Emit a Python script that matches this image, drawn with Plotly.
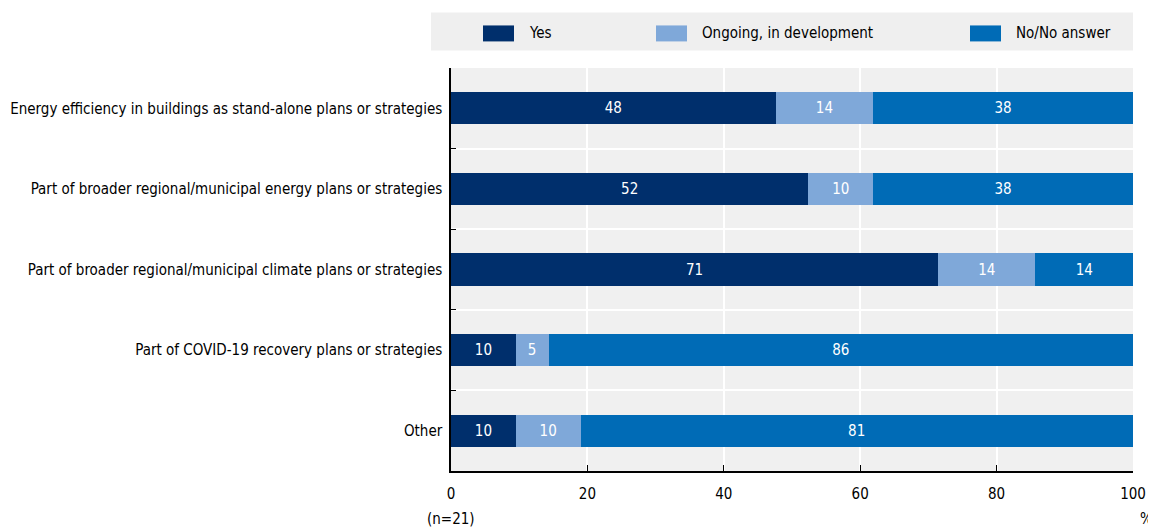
import plotly.graph_objects as go

categories = [
    "Energy efficiency in buildings as stand-alone plans or strategies",
    "Part of broader regional/municipal energy plans or strategies",
    "Part of broader regional/municipal climate plans or strategies",
    "Part of COVID-19 recovery plans or strategies",
    "Other",
]
series_names = ["Yes", "Ongoing, in development", "No/No answer"]
yes_vals = [47.6, 52.4, 71.4, 9.5, 9.5]
ongoing_vals = [14.3, 9.5, 14.3, 4.8, 9.5]
no_vals = [38.1, 38.1, 14.3, 85.7, 80.95]
colors = ["#002f6c", "#7fa8d9", "#006bb6"]
x_ticks = [0, 20, 40, 60, 80, 100]

FONT = "DejaVu Sans Condensed, Liberation Sans, Arial, sans-serif"

# page body has an 8px margin: figure drawn 8px lower/right
PX_L, PX_R, PX_T, PX_B = 451, 1133, 67.6, 471  # plot area in page pixels
PW = PX_R - PX_L
PH = PX_B - PX_T


def px(x):
    return (x - PX_L) / PW


def py(y):
    return (PX_B - y) / PH


fig = go.Figure()
for name, vals, col in zip(series_names, [yes_vals, ongoing_vals, no_vals], colors):
    fig.add_trace(go.Bar(
        y=categories, x=vals, name=name, orientation="h",
        marker=dict(color=col, line=dict(width=0)),
        text=[f"{v:.0f}" for v in vals], textposition="inside",
        insidetextanchor="middle", textangle=0,
        textfont=dict(color="white", size=15, family=FONT),
        showlegend=False, hoverinfo="x+y",
    ))

fig.update_layout(
    barmode="stack", bargap=0.6,
    width=1148, height=522,
    margin=dict(l=PX_L - 8, r=1156 - PX_R, t=PX_T - 8, b=530 - PX_B),
    paper_bgcolor="white", plot_bgcolor="#f0f0f0",
    font=dict(family=FONT, size=15, color="#000"),
)
fig.update_xaxes(
    range=[0, 100], tickvals=x_ticks, ticks="inside", ticklen=6,
    tickcolor="#000", showline=True, linecolor="#000", linewidth=1.5,
    showgrid=True, gridcolor="white", gridwidth=1.5, zeroline=False,
    tickfont=dict(size=15), ticklabelstandoff=8, automargin=False,
)
fig.update_yaxes(
    autorange="reversed", tickson="boundaries", ticks="inside", ticklen=5,
    tickcolor="#000", showline=True, linecolor="#000", linewidth=1.5,
    showgrid=True, gridcolor="white", gridwidth=1.5,
    tickfont=dict(size=15), ticklabelstandoff=4, automargin=False,
)

# legend box (manual)
fig.add_shape(type="rect", xref="paper", yref="paper",
              x0=px(431), x1=px(1133), y0=py(50), y1=py(12),
              fillcolor="#efefef", line=dict(width=0), layer="below")
swatch_x = [483, 656, 970]
for sx, name, col in zip(swatch_x, series_names, colors):
    fig.add_shape(type="rect", xref="paper", yref="paper",
                  x0=px(sx), x1=px(sx + 31), y0=py(41), y1=py(25),
                  fillcolor=col, line=dict(width=0))
    fig.add_annotation(xref="paper", yref="paper",
                       x=px(sx + 44), y=py(33),
                       text=name, showarrow=False, xanchor="left", yanchor="middle",
                       font=dict(size=15))

fig.add_annotation(xref="paper", yref="paper", x=0, y=py(519),
                   text="(n=21)", showarrow=False, xanchor="center", yanchor="middle",
                   font=dict(size=15))
fig.add_annotation(xref="paper", yref="paper", x=px(1146), y=py(519),
                   text="%", showarrow=False, xanchor="center", yanchor="middle",
                   font=dict(size=15))

fig.write_html("out.html")
